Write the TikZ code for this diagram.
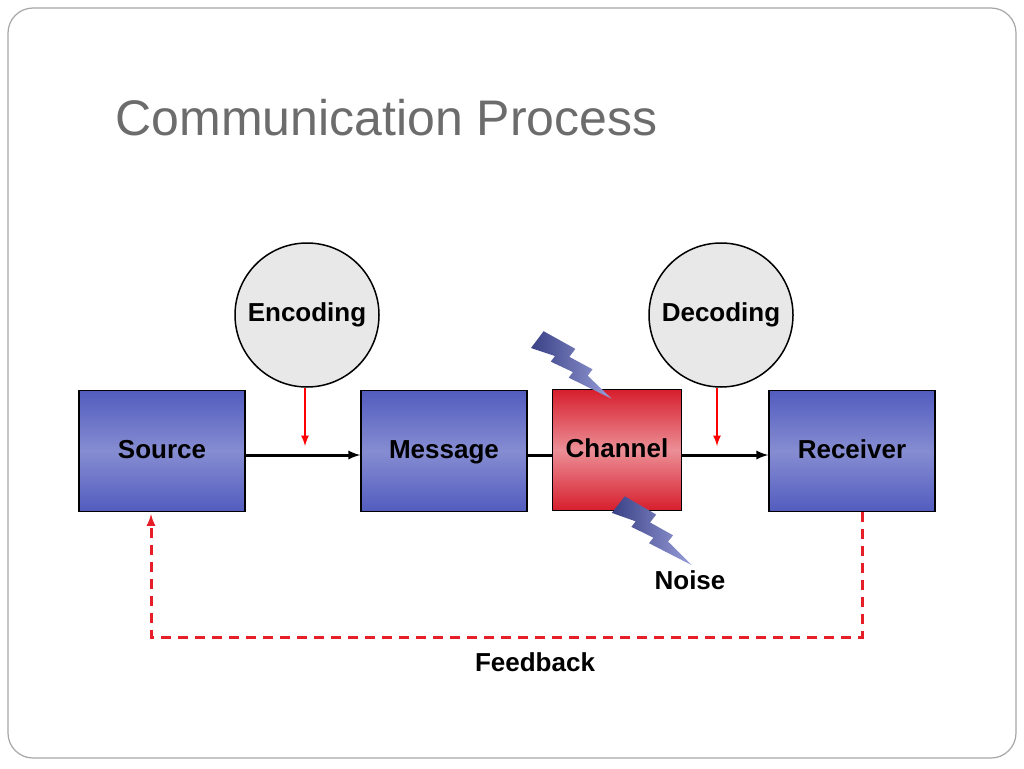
\documentclass[tikz,border=0pt]{standalone}
\usepackage{fontspec}
\setmainfont{Liberation Sans}
\usetikzlibrary{positioning}
\definecolor{boxblue}{RGB}{82,92,190}
\definecolor{boxred}{RGB}{215,30,45}
\definecolor{fbred}{RGB}{230,30,40}
\tikzset{
  block/.style={draw=black,line width=1.5pt,minimum width=166pt,minimum height=121pt,text height=18pt,text depth=4pt,font=\bfseries\fontsize{26}{30}\selectfont,top color=boxblue,bottom color=boxblue,middle color=boxblue!70},
  coder/.style={draw=black,line width=1.5pt,circle,minimum size=144pt,fill=gray!18,font=\bfseries\fontsize{26}{30}\selectfont},
  tag/.style={font=\bfseries\fontsize{26}{30}\selectfont}
}
\begin{document}
\begin{tikzpicture}[x=1pt,y=-1pt]
\useasboundingbox (0,0) rectangle (1024,768);
\draw[gray!70,line width=1.2pt,rounded corners=25pt] (8,8) rectangle (1016,758);
\node[anchor=base west,text=gray!85!black,font=\fontsize{50}{56}\selectfont] at (112,135) {Communication Process};

\node[block] (source) at (162,451) {Source};
\node[block] (message) at (444,451) {Message};
\node[block,minimum width=129pt,top color=boxred,bottom color=boxred,middle color=boxred!50] (channel) at (617,450) {Channel};
\node[block] (receiver) at (852,451) {Receiver};
\node[coder] (encoding) at (307,315) {Encoding};
\node[coder] (decoding) at (721,315) {Decoding};
\node[tag] (noise) at (690,580) {Noise};
\node[tag] (feedback) at (535,662) {Feedback};

\draw[line width=3pt,-latex] (source.east|-0,455) -- (message.west|-0,455);
\draw[line width=3pt] (message.east|-0,455) -- (channel.west|-0,455);
\draw[line width=3pt,-latex] (channel.east|-0,455) -- (receiver.west|-0,455);
\draw[line width=2.5pt,red,-latex] (305,388) -- (305,446);
\draw[line width=2.5pt,red,-latex] (717,388) -- (717,446);
\draw[fbred,line width=3pt,dash pattern=on 10pt off 7pt,-latex] (862,512) -- (862,637) -- (151,637) -- (151,514);

% lightning bolts
\foreach \sx/\sy/\rot in {537/340/-37, 618/505/-38}{
  \begin{scope}[shift={(\sx,\sy)},rotate=\rot]
    \shade[left color=boxblue!70!black,right color=boxblue!60]
      (0,-11) -- (36,-16) -- (36,-6) -- (62,-10) -- (62,-2) -- (95,2)
      -- (48,11) -- (48,4) -- (24,9) -- (24,2) -- (0,10) -- cycle;
  \end{scope}
}
\end{tikzpicture}
\end{document}
